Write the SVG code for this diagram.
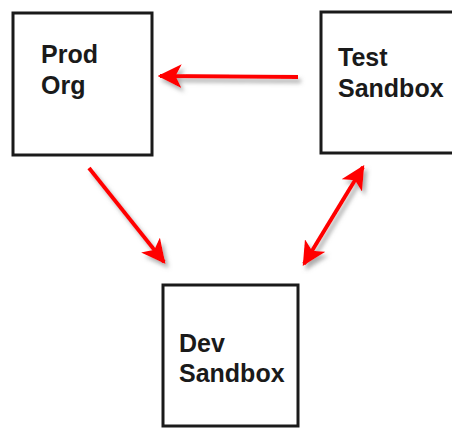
<svg xmlns="http://www.w3.org/2000/svg" width="452" height="428" viewBox="0 0 452 428">
<style>
.box{fill:#fff;stroke:#1a1a1a;stroke-width:3}
.lbl{font-family:"Liberation Sans",Arial,sans-serif;font-weight:bold;font-size:25px;fill:#1a1a1a}
.arr{stroke:#f00;stroke-width:4;fill:none}
</style>
<defs>
<filter id="sh" x="-20%" y="-20%" width="150%" height="150%">
<feDropShadow dx="3" dy="4" stdDeviation="2" flood-color="#777" flood-opacity="0.6"/>
</filter>
<marker id="ah" viewBox="0 0 10 10" refX="9" refY="5" markerWidth="6" markerHeight="6" orient="auto-start-reverse" markerUnits="strokeWidth">
<path d="M0,0 L10,5 L0,10 L2.5,5 Z" fill="#f00"/>
</marker>
</defs>
<rect width="452" height="428" fill="#fff"/>
<g id="prod">
<rect class="box" x="13" y="13" width="139" height="142"/>
<text class="lbl" x="41" y="63">Prod</text>
<text class="lbl" x="41" y="94">Org</text>
</g>
<g id="test">
<rect class="box" x="321" y="12" width="140" height="141"/>
<text class="lbl" x="338" y="66">Test</text>
<text class="lbl" x="338" y="97">Sandbox</text>
</g>
<g id="dev">
<rect class="box" x="163" y="285" width="135" height="141"/>
<text class="lbl" x="179" y="352">Dev</text>
<text class="lbl" x="179" y="382">Sandbox</text>
</g>
<g id="connectors" filter="url(#sh)">
<line class="arr" x1="298" y1="77" x2="160" y2="76" marker-end="url(#ah)"/>
<line class="arr" x1="89" y1="168" x2="164" y2="262" marker-end="url(#ah)"/>
<line class="arr" x1="304" y1="264" x2="363" y2="167" marker-start="url(#ah)" marker-end="url(#ah)"/>
</g>
</svg>
